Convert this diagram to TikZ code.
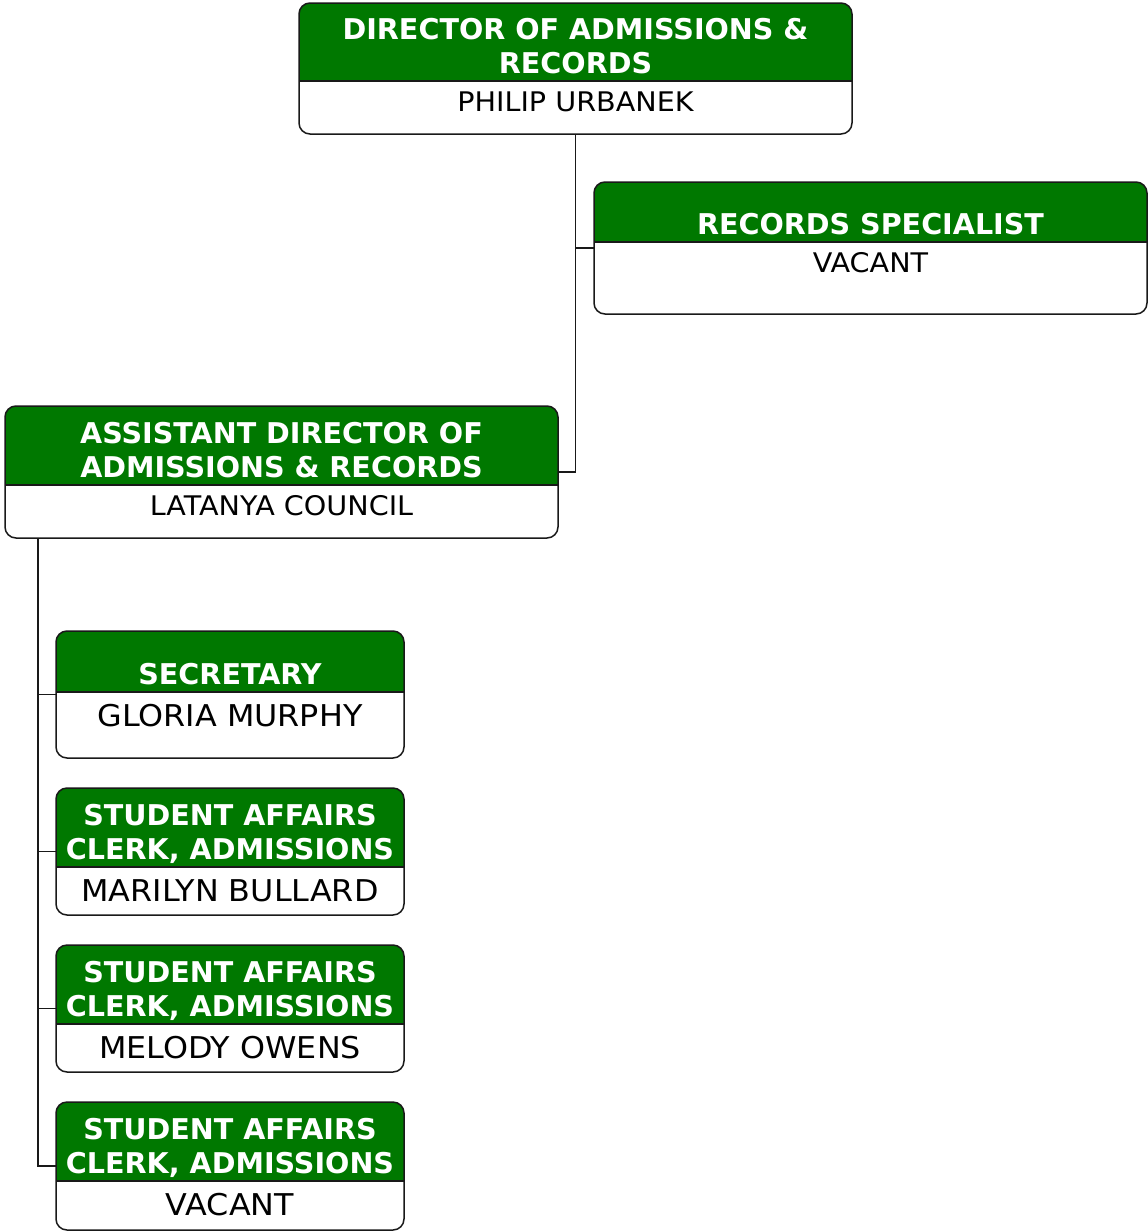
\documentclass[tikz,border=0pt]{standalone}
\usepackage{fontspec}
\setmainfont{DejaVu Sans}
\newfontfamily\namefont{DejaVu Sans}[FakeStretch=1.06]
\definecolor{hdrgreen}{RGB}{0,120,0}
\definecolor{edge}{RGB}{25,25,25}
\tikzset{
 boxshape/.style={inner sep=0pt, outer sep=0pt},
 boxline/.style={draw=edge, line width=1.5pt, rounded corners=11pt},
 sepline/.style={draw=edge, line width=1.3pt},
 conn/.style={draw=edge, line width=1.3pt},
 titletext/.style={text=white, inner sep=0pt, anchor=base, font=\bfseries\fontsize{28.6}{34}\selectfont},
 namesmall/.style={inner sep=0pt, anchor=base, font=\namefont\fontsize{27}{32}\selectfont},
 namebig/.style={inner sep=0pt, anchor=base, font=\namefont\fontsize{30}{36}\selectfont},
 namestyle/.style={namesmall},
}
\def\nameoff{30.7}
\newcommand\OrgBox[9]{%
 \node[boxshape, minimum width={(#4-#2)*1pt}, minimum height={(#5-#3)*1pt}] (#1) at ({(#2+#4)/2},{(#3+#5)/2}) {};
 \begin{scope}
  \clip[rounded corners=11pt] (#1.north west) rectangle (#1.south east);
  \fill[hdrgreen] (#2,#3) rectangle (#4,#6);
 \end{scope}
 \draw[sepline] (#2,#6) -- (#4,#6);
 \draw[boxline] (#1.north west) rectangle (#1.south east);
 \if\relax\detokenize{#7}\relax\else
  \node[titletext] (#1-t1) at ({(#2+#4)/2},{#6-7.5-34}) {#7};
 \fi
 \node[titletext] (#1-t2) at ({(#2+#4)/2},{#6-7.5}) {#8};
 \node[namestyle] (#1-n) at ({(#2+#4)/2},{#6+\nameoff}) {#9};
}
\begin{document}
\begin{tikzpicture}[x=1pt,y=-1pt]
\useasboundingbox (0,0) rectangle (1148,1232);
\OrgBox{dir}{299}{3}{852}{134}{81}{DIRECTOR OF ADMISSIONS \&}{RECORDS}{PHILIP URBANEK}
\OrgBox{rec}{594}{182}{1147}{314}{242}{}{RECORDS SPECIALIST}{VACANT}
\OrgBox{asst}{5}{406}{558}{538}{485}{ASSISTANT DIRECTOR OF}{ADMISSIONS \& RECORDS}{LATANYA COUNCIL}
\begin{scope}[namestyle/.style={namebig}]
\def\nameoff{34}
\OrgBox{sec}{56}{631}{404}{758}{692}{}{SECRETARY}{GLORIA MURPHY}
\OrgBox{clk1}{56}{788}{404}{915}{867}{STUDENT AFFAIRS}{CLERK, ADMISSIONS}{MARILYN BULLARD}
\OrgBox{clk2}{56}{945}{404}{1072}{1024}{STUDENT AFFAIRS}{CLERK, ADMISSIONS}{MELODY OWENS}
\OrgBox{clk3}{56}{1102}{404}{1230}{1181}{STUDENT AFFAIRS}{CLERK, ADMISSIONS}{VACANT}
\end{scope}
\draw[conn] (dir.south) |- (asst.east);
\draw[conn] (dir.south |- rec.west) -- (rec.west);
\coordinate (trunk) at ([xshift=33pt]asst.south west);
\draw[conn] (trunk) |- (clk3.west);
\foreach \b in {sec,clk1,clk2} \draw[conn] (trunk |- \b.west) -- (\b.west);
\end{tikzpicture}
\end{document}
